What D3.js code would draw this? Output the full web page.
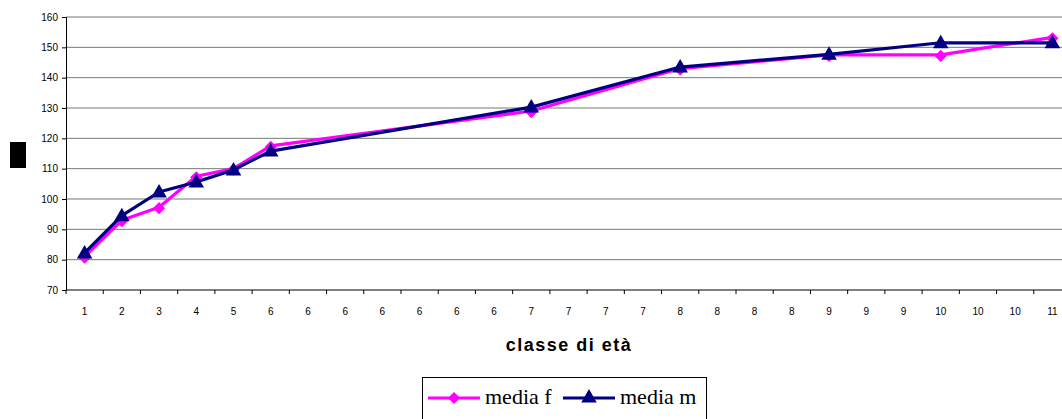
<!DOCTYPE html>
<html>
<head>
<meta charset="utf-8">
<script src="https://cdn.jsdelivr.net/npm/d3@7"></script>
<style>
  body { margin: 0; background: #fff; }
  svg { display: block; }
  .grid line { stroke: #777; stroke-width: 1; }
  .axis text { font-family: Arial, "Liberation Sans", sans-serif; font-size: 10px; fill: #000; }
</style>
</head>
<body>
<div id="chart"></div>
<script>
var categories = ['1','2','3','4','5','6','6','6','6','6','6','6','7','7','7','7','8','8','8','8','9','9','9','10','10','10','11']
var mediaF = [81, 93, 97.3, 107.5, 110, 117.5, null, null, null, null, null, null, 129, null, null, null, 143, null, null, null, 147.5, null, null, 147.5, null, null, 153.3]
var mediaM = [82.2, 94.5, 102.3, 105.6, 109.6, 115.8, null, null, null, null, null, null, 130.3, null, null, null, 143.5, null, null, null, 147.7, null, null, 151.5, null, null, 151.5]
var yTicks = [70, 80, 90, 100, 110, 120, 130, 140, 150, 160]

var width = 1062, height = 419
var m = {left: 66, right: 1071, top: 17, bottom: 290}

var svg = d3.select('#chart').append('svg')
  .attr('width', width).attr('height', height)

var x = d3.scaleBand().domain(d3.range(categories.length)).range([m.left, m.right])
var y = d3.scaleLinear().domain([70, 160]).range([m.bottom, m.top])

// gridlines
svg.append('g').attr('class', 'grid')
  .selectAll('line').data(yTicks.slice(1)).join('line')
  .attr('x1', m.left).attr('x2', width)
  .attr('y1', d => y(d)).attr('y2', d => y(d))

// y axis
var yAxis = svg.append('g').attr('class', 'axis')
  .attr('transform', 'translate(' + m.left + ',0)')
  .call(d3.axisLeft(y).tickValues(yTicks).tickSize(4).tickPadding(4))
yAxis.select('.domain').attr('stroke', '#000')
yAxis.selectAll('.tick line').attr('stroke', '#000')

// x axis: ticks at band edges, labels centred
var xAxis = svg.append('g').attr('class', 'axis')
  .attr('transform', 'translate(0,' + m.bottom + ')')
xAxis.append('line').attr('x1', m.left).attr('x2', width).attr('stroke', '#000')
xAxis.selectAll('.xt').data(d3.range(categories.length + 1)).join('line')
  .attr('x1', d => m.left + d * x.step()).attr('x2', d => m.left + d * x.step())
  .attr('y1', 0).attr('y2', 4).attr('stroke', '#000')
xAxis.selectAll('text').data(categories).join('text')
  .attr('x', (d, i) => x(i) + x.bandwidth() / 2)
  .attr('y', 25)
  .attr('text-anchor', 'middle')
  .text(d => d)

// y title box (as in the original)
svg.append('rect').attr('x', 10).attr('y', 142).attr('width', 16).attr('height', 26).attr('fill', '#000')

// x title
svg.append('text')
  .attr('x', 569).attr('y', 351)
  .attr('text-anchor', 'middle')
  .style('font-family', 'Arial, "Liberation Sans", sans-serif')
  .style('font-size', '18px').style('font-weight', 'bold')
  .style('letter-spacing', '1.5px')
  .text('classe di età')

var line = d3.line().x(d => x(d.i) + x.bandwidth() / 2).y(d => y(d.v))
function pts(arr){ return arr.map((v, i) => ({i: i, v: v})).filter(d => d.v != null) }

var diamond = d3.symbol().type(d3.symbolDiamond2).size(95)
var tri = d3.symbol().type(d3.symbolTriangle).size(105)

var series = [
  {name: 'media f', values: mediaF, color: '#ff00ff', sym: diamond},
  {name: 'media m', values: mediaM, color: '#000080', sym: tri}
]

series.forEach(function(s){
  var p = pts(s.values)
  svg.append('path').attr('d', line(p))
    .attr('fill', 'none').attr('stroke', s.color).attr('stroke-width', 3.2)
    .attr('stroke-linejoin', 'round')
  svg.selectAll(null).data(p).join('path')
    .attr('d', s.sym)
    .attr('transform', d => 'translate(' + (x(d.i) + x.bandwidth() / 2) + ',' + (y(d.v) + 1) + ')')
    .attr('fill', s.color)
})

// legend
var lg = svg.append('g')
lg.append('rect').attr('x', 422.5).attr('y', 377.5).attr('width', 284).attr('height', 60)
  .attr('fill', '#fff').attr('stroke', '#000')
var lx = [428, 563]
series.forEach(function(s, i){
  var g = lg.append('g').attr('transform', 'translate(' + lx[i] + ',398)')
  g.append('line').attr('x1', 0).attr('x2', 52).attr('stroke', s.color).attr('stroke-width', 3.2)
  g.append('path').attr('d', s.sym).attr('transform', 'translate(26,0)').attr('fill', s.color)
  g.append('text').attr('x', 57).attr('y', 6)
    .style('font-family', '"Liberation Serif", "Times New Roman", serif')
    .style('font-size', '22px')
    .text(s.name)
})
</script>
</body>
</html>
